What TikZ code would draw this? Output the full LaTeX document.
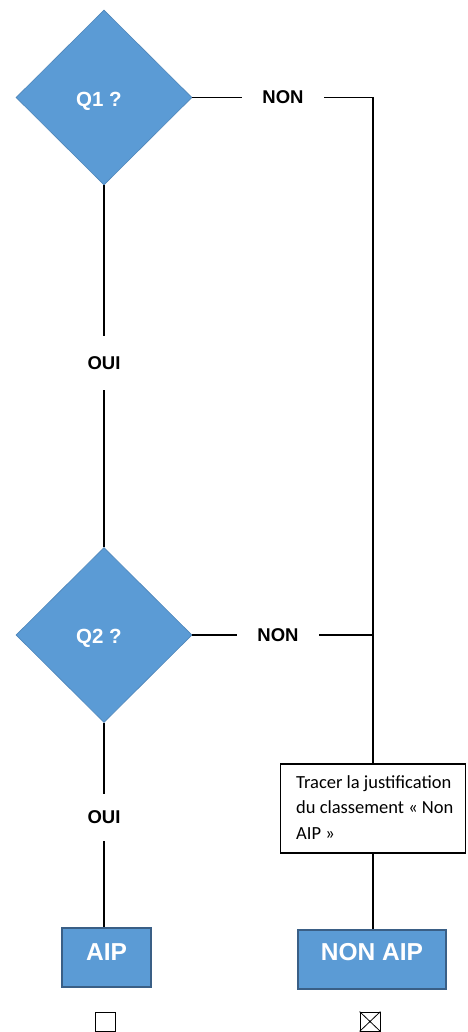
\documentclass[tikz,border=0pt]{standalone}
\usepackage{fontspec}
\setmainfont{Liberation Sans}
\newfontfamily\calfont{Carlito}
\usetikzlibrary{shapes.geometric}
\definecolor{offblue}{HTML}{5B9BD5}
\definecolor{dblue}{HTML}{3A5F86}
\definecolor{lblue}{HTML}{4F86BA}
\tikzset{
  question/.style={diamond, fill=offblue, draw=lblue, line width=0.6pt, inner sep=0pt,
    minimum width=176pt, minimum height=175pt, text=white, text height=22pt,
    font=\fontsize{20.5}{22}\selectfont\bfseries},
  lbl/.style={inner sep=0pt, font=\fontsize{18.5}{20}\selectfont\bfseries},
  result/.style={rectangle, fill=offblue, draw=dblue, line width=1.6pt, inner sep=0pt,
    text=white, font=\fontsize{24.5}{26}\selectfont\bfseries},
  notebox/.style={rectangle, draw=black, fill=white, line width=1.6pt, inner sep=0pt,
    minimum width=185pt, minimum height=89pt},
  conn/.style={line width=1.6pt, draw=black},
  checkbox/.style={rectangle, draw=black, line width=0.8pt, minimum width=20pt,
    minimum height=19pt, inner sep=0pt}
}
\begin{document}
\begin{tikzpicture}[x=1pt,y=-1pt]
\useasboundingbox[fill=white] (0,0) rectangle (467,1032);
% decisions
\node[question] (q1) at (104,97.5) {\hspace*{-10pt}Q1 ?};
\node[question] (q2) at (104,635) {\hspace*{-10pt}Q2 ?};
% labels
\node[lbl, minimum width=82pt] (n1) at (283,97.5) {NON};
\node[lbl, minimum width=82pt] (n2) at (278,635) {NON};
\node[lbl, minimum height=54pt] (o1) at (104,363) {OUI};
\node[lbl, minimum height=47pt] (o2) at (104,817.5) {OUI};
% note box
\node[notebox] (tb) at (373,808.5) {};
\node[anchor=north west, inner sep=0pt, align=left,
  font=\calfont\fontsize{18.5}{25.5}\selectfont] (tbt) at (296,775)
  {Tracer la justification\\du classement « Non\\AIP »};
% results
\node[result, minimum width=89pt, minimum height=59pt, text depth=11pt] (aip) at (106.5,957.5) {AIP};
\node[result, minimum width=148pt, minimum height=59pt, text depth=15pt] (naip) at (372,959.5) {NON AIP};
% checkboxes
\node[checkbox] (c1) at (105,1021.5) {};
\node[checkbox] (c2) at (370,1021.5) {};
\draw[line width=0.8pt] (c2.north west) -- (c2.south east) (c2.north east) -- (c2.south west);
% connectors
\draw[conn] (q1.east) -- (n1.west);
\draw[conn] (n1.east) -| (tb.north);
\draw[conn] (q2.east) -- (n2.west);
\draw[conn] (n2.east) -- (n2.east -| tb.north);
\draw[conn] (q1.south) -- (o1.north);
\draw[conn] (o1.south) -- (q2.north);
\draw[conn] (q2.south) -- (o2.north);
\draw[conn] (o2.south) -- (o2.south |- aip.north);
\draw[conn] (tb.south) -- (tb.south |- naip.north);
\end{tikzpicture}
\end{document}
